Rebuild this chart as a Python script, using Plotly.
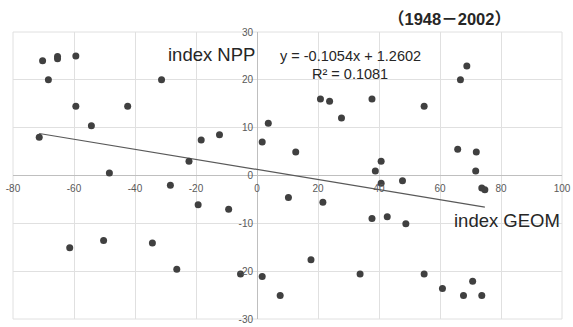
import numpy as np
import plotly.graph_objects as go

# Data (index GEOM vs index NPP, 1948-2002)
geom = [-70.3, -65.4, -65.4, -59.4, -68.4, -59.4, -42.4, -54.3, -31.3, -71.4,
        -18.3, -12.3, -22.3, 1.7, 3.7, 68.8, 66.7, 20.8, 23.8, 37.7,
        27.7, 54.8, 12.7, 40.7, 65.8, 71.9, -48.4, -28.4, -19.3, -9.3,
        10.3, -61.4, -50.3, -34.3, -26.3, -5.4, 1.7, 7.6, 38.8, 71.7,
        47.7, 40.7, 73.7, 74.7, 21.6, 37.7, 42.7, 48.8, 17.7, 33.8,
        54.8, 60.8, 70.7, 67.7, 73.7]
npp = [24.0, 24.9, 24.4, 25.0, 20.0, 14.5, 14.5, 10.4, 20.0, 8.0,
       7.4, 8.5, 3.0, 7.0, 10.9, 22.9, 20.0, 16.0, 15.5, 16.0,
       12.0, 14.5, 4.9, 3.0, 5.5, 4.9, 0.5, -2.05, -6.1, -7.05,
       -4.6, -15.1, -13.6, -14.1, -19.6, -20.6, -21.1, -25.1, 0.96, 0.96,
       -1.1, -1.6, -2.6, -3.0, -5.6, -9.0, -8.6, -10.1, -17.6, -20.6,
       -20.6, -23.6, -22.1, -25.1, -25.1]
slope = -0.1054
intercept = 1.2602
x_ticks = [-80, -60, -40, -20, 0, 20, 40, 60, 80, 100]
y_ticks = [-30, -20, -10, 0, 10, 20, 30]

fx = np.array([min(geom), max(geom)])
fy = slope * fx + intercept

fig = go.Figure()
fig.add_trace(go.Scatter(x=fx, y=fy, mode="lines",
                         line=dict(color="#595959", width=1.2),
                         hoverinfo="skip", showlegend=False))
fig.add_trace(go.Scatter(x=geom, y=npp, mode="markers",
                         marker=dict(color="#404040", size=7),
                         showlegend=False))

tickfont = dict(family="Liberation Sans, Arial", size=10, color="#595959")
fig.update_layout(
    width=573, height=327,
    margin=dict(l=13, r=8, t=32, b=2),
    paper_bgcolor="white", plot_bgcolor="white",
    xaxis=dict(range=[-80, 100], tickvals=x_ticks, ticktext=[str(v) for v in x_ticks],
               showgrid=True, gridcolor="#e0e0e0", gridwidth=1,
               zeroline=True, zerolinecolor="#bfbfbf", zerolinewidth=1,
               anchor="free", position=0.5, ticks="", tickfont=tickfont,
               ticklabelstandoff=5, ticklabeloverflow="allow",
               showline=False),
    yaxis=dict(range=[-30, 30], tickvals=y_ticks, ticktext=[str(v) for v in y_ticks],
               showgrid=True, gridcolor="#e0e0e0", gridwidth=1,
               zeroline=True, zerolinecolor="#bfbfbf", zerolinewidth=1,
               anchor="free", position=80/180, ticks="", tickfont=tickfont,
               ticklabelstandoff=4, ticklabeloverflow="allow",
               showline=False),
    font=dict(family="Liberation Sans, Arial", color="#262626"),
    shapes=[dict(type="rect", xref="paper", yref="paper", x0=0, y0=0, x1=1, y1=1,
                 line=dict(color="#e0e0e0", width=1), layer="below")],
    annotations=[
        dict(text="<b>（1948－2002）</b>", xref="paper", yref="paper",
             x=(452-13)/552, y=1 + (32-19)/292, xanchor="center", yanchor="middle",
             showarrow=False, font=dict(size=16.5, color="#262626",
                                        family="Liberation Sans, Noto Sans CJK SC")),
        dict(text="index NPP", x=-15, y=25.2, xanchor="center", yanchor="middle",
             showarrow=False, font=dict(size=18.5, color="#262626")),
        dict(text="y = -0.1054x + 1.2602", x=30.5, y=25.0, xanchor="center", yanchor="middle",
             showarrow=False, font=dict(size=14.5, color="#262626")),
        dict(text="R² = 0.1081", x=30.5, y=21.3, xanchor="center", yanchor="middle",
             showarrow=False, font=dict(size=14.5, color="#262626")),
        dict(text="index GEOM", x=82, y=-9.5, xanchor="center", yanchor="middle",
             showarrow=False, font=dict(size=18.5, color="#262626")),
    ],
)

fig.write_html("out.html")
